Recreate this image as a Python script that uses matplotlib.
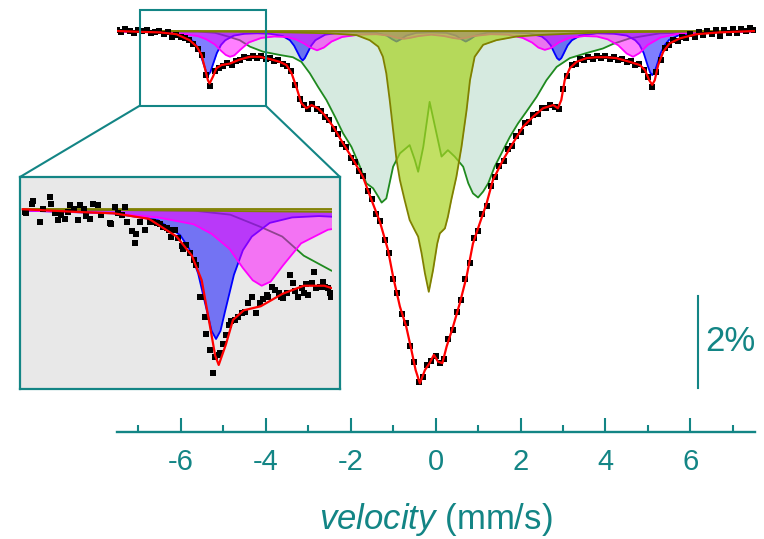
# Mossbauer spectrum with fitted sub-spectra and a zoomed inset
import numpy as np
import matplotlib
matplotlib.use('Agg')
import matplotlib.pyplot as plt
from matplotlib.patches import Rectangle, ConnectionPatch

# ---- data (velocity in mm/s, transmission in %) ----
BASELINE = 100.0

# measured channels (main plot)
data_v = np.linspace(-7.5, 7.5, 151)
data_t = [
    100.03, 99.98, 100.05, 100.01, 99.96, 100.02, 99.99, 100.03, 99.95, 99.98,
    100.00, 99.93, 99.97, 99.88, 99.92, 99.87, 99.84, 99.81, 99.71, 99.60,
    99.47, 99.05, 98.80, 99.12, 99.20, 99.24, 99.30, 99.27, 99.35, 99.36,
    99.43, 99.41, 99.46, 99.42, 99.45, 99.40, 99.41, 99.34, 99.36, 99.28,
    99.23, 99.12, 98.83, 98.52, 98.40, 98.30, 98.41, 98.30, 98.27, 98.13,
    98.06, 97.88, 97.76, 97.55, 97.47, 97.25, 97.16, 96.95, 96.85, 96.52,
    96.34, 96.03, 95.88, 95.45, 95.18, 94.60, 94.31, 93.84, 93.65, 93.16,
    92.80, 92.38, 92.47, 92.74, 92.82, 92.93, 92.78, 92.88, 93.30, 93.50,
    93.90, 94.15, 94.60, 94.95, 95.50, 95.66, 96.02, 96.20, 96.62, 96.82,
    97.07, 97.18, 97.43, 97.50, 97.72, 97.80, 97.99, 98.02, 98.17, 98.19,
    98.33, 98.32, 98.39, 98.35, 98.31, 98.75, 99.03, 99.26, 99.29, 99.39,
    99.36, 99.44, 99.40, 99.46, 99.41, 99.45, 99.39, 99.43, 99.37, 99.40,
    99.32, 99.34, 99.27, 99.28, 99.15, 99.00, 98.78, 99.10, 99.38, 99.62,
    99.69, 99.80, 99.79, 99.88, 99.84, 99.93, 99.87, 99.97, 99.91, 99.99,
    99.94, 100.02, 99.90, 100.03, 99.95, 100.05, 99.96, 100.04, 99.99, 100.06,
    100.02]

# measured channels shown in the inset (denser)
inset_v = [-7.48, -7.47, -7.41, -7.39, -7.32, -7.28, -7.21, -7.19, -7.15, -7.11,
           -7.08, -7.04, -7.00, -6.98, -6.94, -6.89, -6.87, -6.83, -6.80, -6.76,
           -6.72, -6.67, -6.63, -6.54, -6.52, -6.48, -6.44, -6.40, -6.37, -6.35,
           -6.29, -6.26, -6.24, -6.20, -6.14, -6.09, -6.05, -6.01, -5.98, -5.94,
           -5.90, -5.88, -5.85, -5.81, -5.77, -5.73, -5.72, -5.68, -5.64, -5.60,
           -5.57, -5.53, -5.51, -5.47, -5.46, -5.42, -5.38, -5.36, -5.32, -5.31,
           -5.27, -5.24, -5.21, -5.18, -5.14, -5.10, -5.06, -5.03, -4.99, -4.95,
           -4.90, -4.86, -4.82, -4.78, -4.77, -4.73, -4.69, -4.65, -4.62, -4.60,
           -4.56, -4.52, -4.49, -4.47, -4.43, -4.39, -4.37, -4.34, -4.32, -4.28,
           -4.26, -4.23, -4.19, -4.15, -4.13, -4.10, -4.08, -4.06]
inset_t = [99.98, 99.97, 100.04, 100.06, 99.91, 100.00, 100.09, 100.04, 99.97, 99.92,
           99.96, 99.93, 99.98, 100.03, 100.00, 99.92, 100.03, 100.00, 99.95, 99.93,
           100.04, 100.03, 99.96, 99.90, 99.89, 100.02, 99.97, 99.96, 100.02, 99.91,
           99.84, 99.75, 99.82, 99.91, 99.85, 99.91, 99.91, 99.90, 99.89, 99.87,
           99.86, 99.85, 99.80, 99.85, 99.79, 99.73, 99.71, 99.74, 99.68, 99.63,
           99.59, 99.36, 99.36, 99.21, 99.09, 98.97, 98.80, 98.92, 98.93, 98.95,
           99.01, 99.08, 99.15, 99.18, 99.19, 99.21, 99.24, 99.25, 99.31, 99.36,
           99.24, 99.31, 99.34, 99.37, 99.36, 99.43, 99.41, 99.39, 99.36, 99.35,
           99.39, 99.52, 99.46, 99.40, 99.36, 99.42, 99.39, 99.45, 99.37, 99.46,
           99.54, 99.42, 99.43, 99.47, 99.43, 99.42, 99.39, 99.36]

# total fit (red)
fit_v = [-7.51, -6.89, -6.49, -6.10, -5.79, -5.62, -5.51, -5.43, -5.36, -5.32,
         -5.24, -5.16, -5.04, -4.85, -4.61, -4.37, -4.14, -3.90, -3.67, -3.51,
         -3.39, -3.28, -3.16, -3.04, -2.92, -2.77, -2.61, -2.41, -2.18, -1.94,
         -1.71, -1.51, -1.31, -1.12, -1.00, -0.84, -0.69, -0.57, -0.47, -0.37,
         -0.25, -0.14, -0.04, 0.06, 0.16, 0.26, 0.41, 0.57, 0.73, 0.88,
         1.04, 1.20, 1.35, 1.59, 1.82, 2.06, 2.30, 2.53, 2.77, 2.88,
         2.96, 3.04, 3.16, 3.32, 3.55, 3.79, 4.02, 4.26, 4.57, 4.81,
         4.93, 5.03, 5.10, 5.16, 5.24, 5.36, 5.51, 5.75, 6.14, 6.69, 7.52]
fit_t = [100.00, 99.98, 99.97, 99.93, 99.80, 99.66, 99.48, 99.19, 98.93, 98.86,
         99.01, 99.19, 99.26, 99.29, 99.38, 99.44, 99.44, 99.39, 99.33, 99.26,
         99.08, 98.79, 98.43, 98.32, 98.39, 98.32, 98.17, 97.92, 97.56, 97.20,
         96.83, 96.33, 95.85, 95.24, 94.66, 94.01, 93.57, 93.07, 92.63, 92.34,
         92.63, 92.78, 92.96, 92.81, 92.78, 93.14, 93.57, 94.08, 94.66, 95.38,
         95.82, 96.25, 96.76, 97.20, 97.56, 97.92, 98.14, 98.32, 98.39, 98.32,
         98.50, 98.93, 99.19, 99.33, 99.41, 99.43, 99.43, 99.41, 99.33, 99.26,
         99.15, 98.93, 98.83, 98.93, 99.26, 99.55, 99.73, 99.84, 99.93, 99.97, 100.00]

# narrow sextet (blue)
blue_v = [-7.5, -6.5, -6.0, -5.75, -5.65, -5.55, -5.45, -5.4, -5.35, -5.3,
          -5.25, -5.15, -5.05, -4.95, -4.75, -4.5, -4.2, -3.9, -3.6, -3.43,
          -3.33, -3.23, -3.18, -3.13, -3.08, -3.03, -2.93, -2.83, -2.6, -2.2,
          -1.8, -1.4, -1.15, -1.02, -0.92, -0.82, -0.69, -0.45, -0.1, 0.25,
          0.48, 0.61, 0.71, 0.81, 0.94, 1.2, 1.7, 2.2, 2.5, 2.61,
          2.71, 2.81, 2.86, 2.91, 2.96, 3.01, 3.11, 3.21, 3.4, 3.8,
          4.2, 4.5, 4.7, 4.8, 4.9, 5.0, 5.05, 5.1, 5.15, 5.2,
          5.3, 5.4, 5.5, 5.75, 6.3, 7.5]
blue_t = [99.99, 99.97, 99.92, 99.81, 99.71, 99.53, 99.25, 99.11, 99.05, 99.11,
          99.25, 99.52, 99.70, 99.80, 99.90, 99.94, 99.95, 99.94, 99.89, 99.80,
          99.68, 99.50, 99.41, 99.36, 99.41, 99.50, 99.68, 99.80, 99.92, 99.97,
          99.97, 99.96, 99.90, 99.82, 99.77, 99.82, 99.90, 99.96, 99.97, 99.96,
          99.90, 99.82, 99.77, 99.82, 99.90, 99.96, 99.97, 99.95, 99.88, 99.80,
          99.69, 99.50, 99.41, 99.37, 99.41, 99.50, 99.69, 99.80, 99.90, 99.95,
          99.94, 99.90, 99.80, 99.70, 99.52, 99.23, 99.10, 99.04, 99.10, 99.23,
          99.52, 99.70, 99.81, 99.92, 99.97, 99.99]

# broad sextet (magenta)
mag_v = [-7.5, -6.5, -6.0, -5.6, -5.4, -5.2, -5.05, -4.94, -4.84, -4.74,
         -4.6, -4.4, -4.1, -3.8, -3.5, -3.3, -3.1, -2.95, -2.79, -2.63,
         -2.45, -2.2, -1.8, -1.4, -1.1, -0.9, -0.75, -0.6, -0.4, -0.1,
         0.2, 0.4, 0.55, 0.7, 0.9, 1.3, 1.7, 2.05, 2.27, 2.42,
         2.57, 2.72, 2.9, 3.15, 3.5, 3.8, 4.05, 4.3, 4.5, 4.65,
         4.8, 5.0, 5.3, 5.7, 6.3, 7.5]
mag_t = [99.99, 99.97, 99.94, 99.89, 99.82, 99.71, 99.57, 99.48, 99.44, 99.47,
         99.59, 99.75, 99.85, 99.88, 99.87, 99.82, 99.73, 99.64, 99.58, 99.64,
         99.77, 99.87, 99.92, 99.93, 99.90, 99.85, 99.83, 99.85, 99.89, 99.92,
         99.89, 99.85, 99.83, 99.85, 99.89, 99.93, 99.92, 99.85, 99.75, 99.64,
         99.59, 99.63, 99.75, 99.85, 99.89, 99.88, 99.82, 99.69, 99.51, 99.44,
         99.52, 99.70, 99.86, 99.94, 99.97, 99.99]

# broad distribution (light green fill, green line)
broad_v = [-7.5, -5.6, -5.19, -4.85, -4.61, -4.37, -4.06, -3.67, -3.36, -3.16,
           -2.96, -2.77, -2.57, -2.37, -2.18, -1.98, -1.78, -1.63, -1.47, -1.35,
           -1.27, -1.16, -1.00, -0.84, -0.61, -0.49, -0.41, -0.29, -0.14, -0.02,
           0.14, 0.29, 0.45, 0.65, 0.77, 0.88, 1.00, 1.12, 1.24, 1.39,
           1.55, 1.75, 1.94, 2.14, 2.38, 2.61, 2.85, 3.16, 3.55, 3.94,
           4.18, 4.57, 5.28, 7.5]
broad_t = [100.0, 99.99, 99.96, 99.87, 99.80, 99.66, 99.55, 99.48, 99.43, 99.33,
           99.08, 98.79, 98.50, 98.14, 97.78, 97.48, 97.05, 96.69, 96.58, 96.40,
           96.27, 96.36, 97.05, 97.34, 97.52, 97.20, 96.94, 97.48, 98.46, 97.95,
           97.27, 97.41, 97.27, 97.05, 96.69, 96.47, 96.38, 96.51, 96.69, 97.05,
           97.34, 97.70, 97.99, 98.25, 98.57, 98.93, 99.22, 99.41, 99.52, 99.62,
           99.72, 99.84, 99.95, 100.0]

# central doublet (lime fill, olive line)
lime_v = [-7.5, -4.0, -2.5, -1.86, -1.55, -1.35, -1.24, -1.16, -1.08, -1.00,
          -0.92, -0.84, -0.73, -0.61, -0.49, -0.41, -0.33, -0.25, -0.16, -0.06,
          0.04, 0.10, 0.22, 0.29, 0.37, 0.49, 0.61, 0.73, 0.81, 0.92,
          1.12, 1.43, 1.90, 2.38, 3.87, 7.5]
lime_t = [100.0, 99.98, 99.95, 99.91, 99.80, 99.66, 99.44, 99.08, 98.50, 97.85,
          97.20, 96.76, 96.33, 95.89, 95.67, 95.53, 95.17, 94.73, 94.33, 94.80,
          95.38, 95.60, 95.71, 95.96, 96.33, 96.83, 97.48, 98.28, 98.93, 99.44,
          99.70, 99.80, 99.88, 99.91, 99.97, 100.0]

# zoom window in the main plot and the inset ranges
ZOOM_V = (-6.965, -4.0)
ZOOM_T = (98.376, 100.457)
INSET_XLIM = (-7.54, -3.965)
INSET_YLIM = (98.684, 100.236)
INSET_CUT = -4.05
SCALE_BAR_V = 6.17
SCALE_BAR_T = (94.24, 92.24)

# ---- style ----
plt.rcParams['font.family'] = ['Liberation Sans', 'DejaVu Sans']
plt.rcParams['mathtext.fontset'] = 'custom'
plt.rcParams['mathtext.it'] = 'Liberation Sans:italic'
plt.rcParams['mathtext.rm'] = 'Liberation Sans'
plt.rcParams['axes.unicode_minus'] = False  # plain hyphen on tick labels

TEAL = '#138585'
W, H = 764, 539


def draw_spectrum(a, dv, dt, ms, clip=None, broad_fill=True):
    """Draw all sub-spectra, the data and the fit into axes a."""
    arts = []
    # broad distribution
    if broad_fill:
        arts.append(a.fill_between(broad_v, BASELINE, broad_t, color='#d6eae0', lw=0, zorder=1))
    arts += a.plot(broad_v, broad_t, color='#1f8a1f', lw=1.3, zorder=2)
    # narrow sextet
    arts.append(a.fill_between(blue_v, BASELINE, blue_t, color='#0000ff', alpha=0.5, lw=0, zorder=2))
    arts += a.plot(blue_v, blue_t, color='#0000ff', lw=1.3, zorder=3)
    # broad sextet
    arts.append(a.fill_between(mag_v, BASELINE, mag_t, color='#ff00ff', alpha=0.5, lw=0, zorder=3))
    arts += a.plot(mag_v, mag_t, color='#ff00ff', lw=1.3, zorder=3)
    # central doublet, drawn over the others
    arts.append(a.fill_between(lime_v, BASELINE, lime_t, color='#a8d322', alpha=0.7, lw=0, zorder=4))
    arts += a.plot(lime_v, lime_t, color='#808000', lw=1.3, zorder=4)
    arts += a.plot([lime_v[0], lime_v[-1]], [BASELINE, BASELINE], color='#808000', lw=1.3, zorder=4)
    # measured points and total fit
    arts += a.plot(dv, dt, ls='none', marker='s', ms=ms, mew=0, color='black', zorder=6)
    arts += a.plot(fit_v, fit_t, color='red', lw=1.6, zorder=7)
    if clip is not None:
        for art in arts:
            art.set_clip_path(clip)
    return arts


fig = plt.figure(figsize=(W / 100, H / 100), dpi=100)

# main axes: only the bottom spine is shown
ax = fig.add_axes([117 / W, 1 - 432.3 / H, 638 / W, 432.3 / H])
ax.set_facecolor('none')
draw_spectrum(ax, data_v, data_t, ms=4.6)
ax.set_xlim(-7.5, 7.52)
ax.set_ylim(91.276, 100.674)
for side in ['left', 'right', 'top']:
    ax.spines[side].set_visible(False)
ax.spines['bottom'].set_color(TEAL)
ax.spines['bottom'].set_linewidth(1.7)
ax.set_yticks([])
ax.set_xticks([-6, -4, -2, 0, 2, 4, 6])
ax.set_xticks([-7, -5, -3, -1, 1, 3, 5, 7], minor=True)
ax.tick_params(axis='x', which='major', direction='in', length=10, width=1.5,
               colors=TEAL, labelsize=21, pad=11)
ax.tick_params(axis='x', which='minor', direction='in', length=5, width=1.5, colors=TEAL)
ax.set_xlabel(r'$velocity$ (mm/s)', fontsize=25, color=TEAL, labelpad=18)

# 2 % scale bar
ax.plot([SCALE_BAR_V, SCALE_BAR_V], SCALE_BAR_T, color=TEAL, lw=1.5, clip_on=False)
ax.text(SCALE_BAR_V + 0.17, np.mean(SCALE_BAR_T), '2%', fontsize=25, color=TEAL,
        va='center', ha='left')

# zoom window
ax.add_patch(Rectangle((ZOOM_V[0], ZOOM_T[0]), ZOOM_V[1] - ZOOM_V[0], ZOOM_T[1] - ZOOM_T[0],
                       fill=False, edgecolor=TEAL, lw=1.5, zorder=8, clip_on=False))

# inset
axins = fig.add_axes([20 / W, 1 - 389 / H, 320 / W, 212 / H], zorder=5)
axins.set_facecolor('#e8e8e8')
clip = Rectangle((INSET_XLIM[0], 90), INSET_CUT - INSET_XLIM[0], 20,
                 transform=axins.transData)
draw_spectrum(axins, inset_v, inset_t, ms=4.0, clip=clip, broad_fill=False)
axins.set_xlim(*INSET_XLIM)
axins.set_ylim(*INSET_YLIM)
axins.set_xticks([])
axins.set_yticks([])
for sp in axins.spines.values():
    sp.set_color(TEAL)
    sp.set_linewidth(1.6)

# lines joining the zoom window to the inset
for corner_v, inset_x in [(ZOOM_V[0], 0), (ZOOM_V[1], 1)]:
    con = ConnectionPatch(xyA=(corner_v, ZOOM_T[0]), coordsA=ax.transData,
                          xyB=(inset_x, 1), coordsB=axins.transAxes,
                          color=TEAL, lw=1.5)
    fig.add_artist(con)

fig.savefig('out.png', dpi=100)
